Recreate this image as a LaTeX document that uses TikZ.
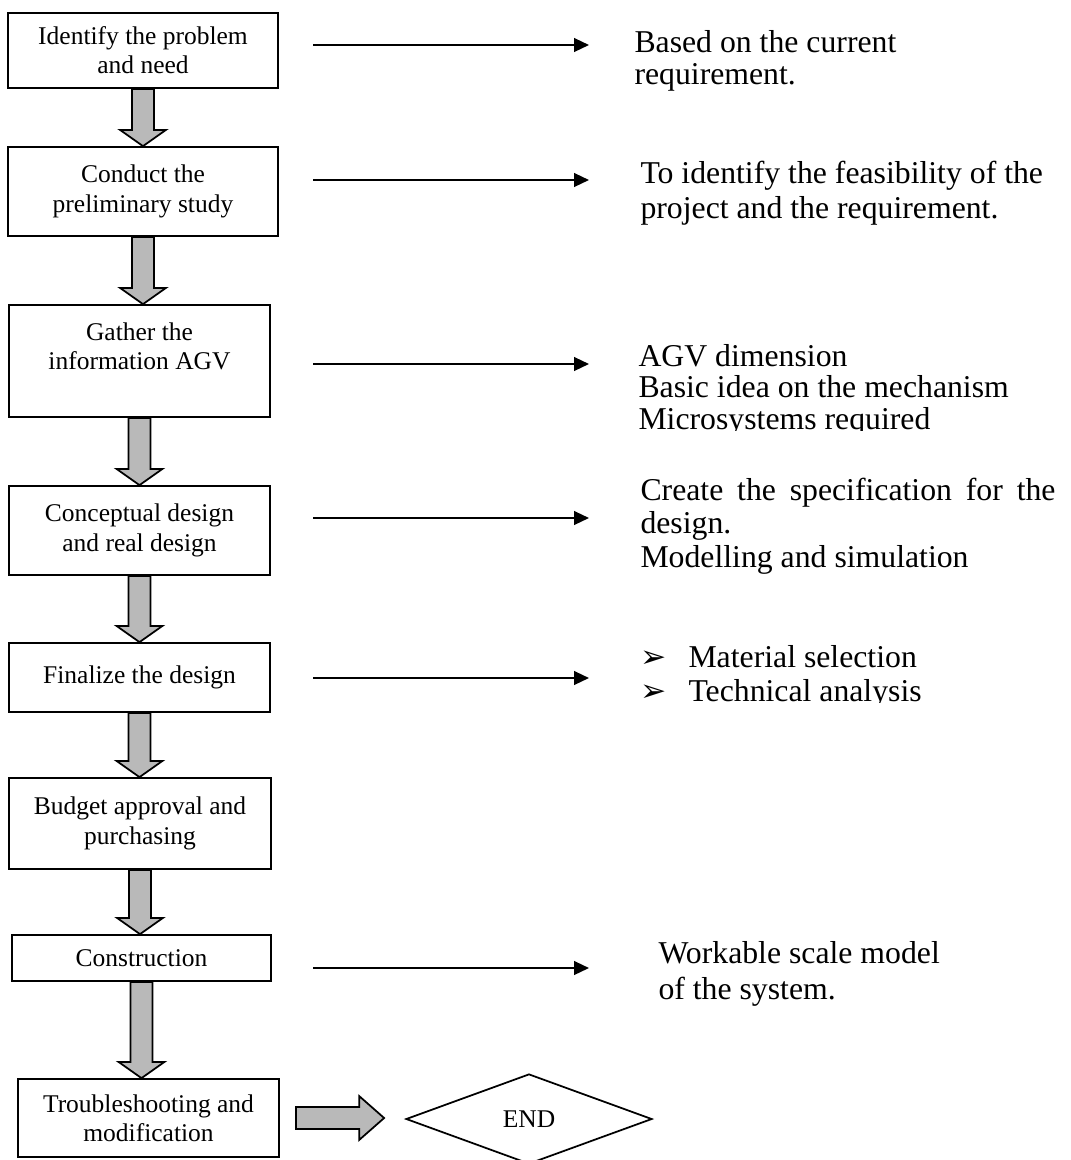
\documentclass[tikz,border=0pt]{standalone}
\usepackage{fontspec}
\setmainfont{Liberation Serif}
\newfontfamily\dejavu{DejaVu Sans}
\usetikzlibrary{arrows.meta,calc,shapes.geometric}
\newcommand\blockdown[2]{\draw[blk] let \p1=(#1.south),\p2=(#2.north) in
  (\x1-4.4pt,\y1) -- (\x1+4.4pt,\y1) -- (\x1+4.4pt,\y2+6.5pt) -- (\x1+9.2pt,\y2+6.5pt)
  -- (\x1,\y2) -- (\x1-9.2pt,\y2+6.5pt) -- (\x1-4.4pt,\y2+6.5pt) -- cycle;}
\begin{document}
\begin{tikzpicture}[x=0.4pt,y=-0.4pt,
  box/.style={draw,line width=0.7pt,align=center,inner sep=0,
    font=\fontsize{10.2}{11.7}\selectfont},
  blk/.style={draw,line width=0.7pt,fill=gray!55},
  conn/.style={line width=0.8pt,-{Triangle[length=6pt,width=5.5pt]}},
  rtext/.style={anchor=base west,align=flush left,inner sep=0,text width=180pt,
    font=\fontsize{12.7}{14.4}\selectfont}]
\useasboundingbox (0,0) rectangle (1071,1160);

% boxes
\node[box,minimum width=108pt,minimum height=30pt] (b1) at (143,50.5) {Identify the problem\\and need};
\node[box,minimum width=108pt,minimum height=35.6pt] (b2) at (143,191.5) {Conduct the\\preliminary study};
\node[box,minimum width=104.4pt,minimum height=44.8pt] (b3) at (139.5,361) {Gather the\\information AGV\\\mbox{}};
\node[box,minimum width=104.4pt,minimum height=35.6pt] (b4) at (139.5,530.5) {Conceptual design\\and real design};
\node[box,minimum width=104.4pt,minimum height=27.6pt] (b5) at (139.5,677.5) {Finalize the design};
\node[box,minimum width=104.8pt,minimum height=36.4pt] (b6) at (140,823.5) {Budget approval and\\purchasing};
\node[box,minimum width=103.6pt,minimum height=18.4pt] (b7) at (141.5,958) {Construction};
\node[box,minimum width=104.4pt,minimum height=31.2pt] (b8) at (148.5,1118) {Troubleshooting and\\modification};
\node[draw,line width=0.7pt,diamond,inner sep=0,minimum width=98.4pt,minimum height=36pt,
  font=\fontsize{10.2}{11.7}\selectfont] (endd) at (529,1119) {END};

% block arrows
\blockdown{b1}{b2}
\blockdown{b2}{b3}
\blockdown{b3}{b4}
\blockdown{b4}{b5}
\blockdown{b5}{b6}
\blockdown{b6}{b7}
\blockdown{b7}{b8}
\draw[blk] let \p1=($(b8.east)+(16,0)$), \p2=($(endd.west)+(-21,0)$) in
  (\x1,\y1+4.4pt) -- (\x2-10pt,\y1+4.4pt) -- (\x2-10pt,\y1+8.8pt) -- (\x2,\y1)
  -- (\x2-10pt,\y1-8.8pt) -- (\x2-10pt,\y1-4.4pt) -- (\x1,\y1-4.4pt) -- cycle;

% right texts
\node[rtext,font=\fontsize{12.7}{12.8}\selectfont] (t1) at (634,52) {Based on the current\\requirement.};
\node[rtext,font=\fontsize{12.7}{14.2}\selectfont] (t2) at (640,183) {To identify the feasibility of the\\project and the requirement.};
\begin{scope}
  \clip (600,300) rectangle (1071,430);
  \node[rtext,font=\fontsize{12.7}{12.6}\selectfont] (t3) at (638,366) {AGV dimension\\Basic idea on the mechanism\\Microsystems required};
\end{scope}
\node[rtext,text width=166pt,align=justify,font=\fontsize{12.7}{13.4}\selectfont] (t4) at (640,500) {Create the specification for the design.\\Modelling and simulation};
\node[rtext,text width=20pt,font=\dejavu\fontsize{12.5}{12}\selectfont] (bu1) at (640,667) {➢};
\node[rtext,text width=20pt,font=\dejavu\fontsize{12.5}{12}\selectfont] (bu2) at (640,701) {➢};
\begin{scope}
  \clip (600,600) rectangle (1071,702);
  \node[rtext,font=\fontsize{12.7}{13.6}\selectfont] (t5) at (688,667) {Material selection\\Technical analysis};
\end{scope}
\node[rtext,font=\fontsize{12.7}{14.6}\selectfont] (t7) at (658,963) {Workable scale model\\of the system.};

% connectors
\foreach \n/\y in {1/45,2/180,3/364,4/518,5/678,7/968}{
  \coordinate (s\n) at (313,\y);
  \coordinate (e\n) at (589,\y);
  \draw[conn] (s\n) -- (e\n);
}
\end{tikzpicture}
\end{document}
